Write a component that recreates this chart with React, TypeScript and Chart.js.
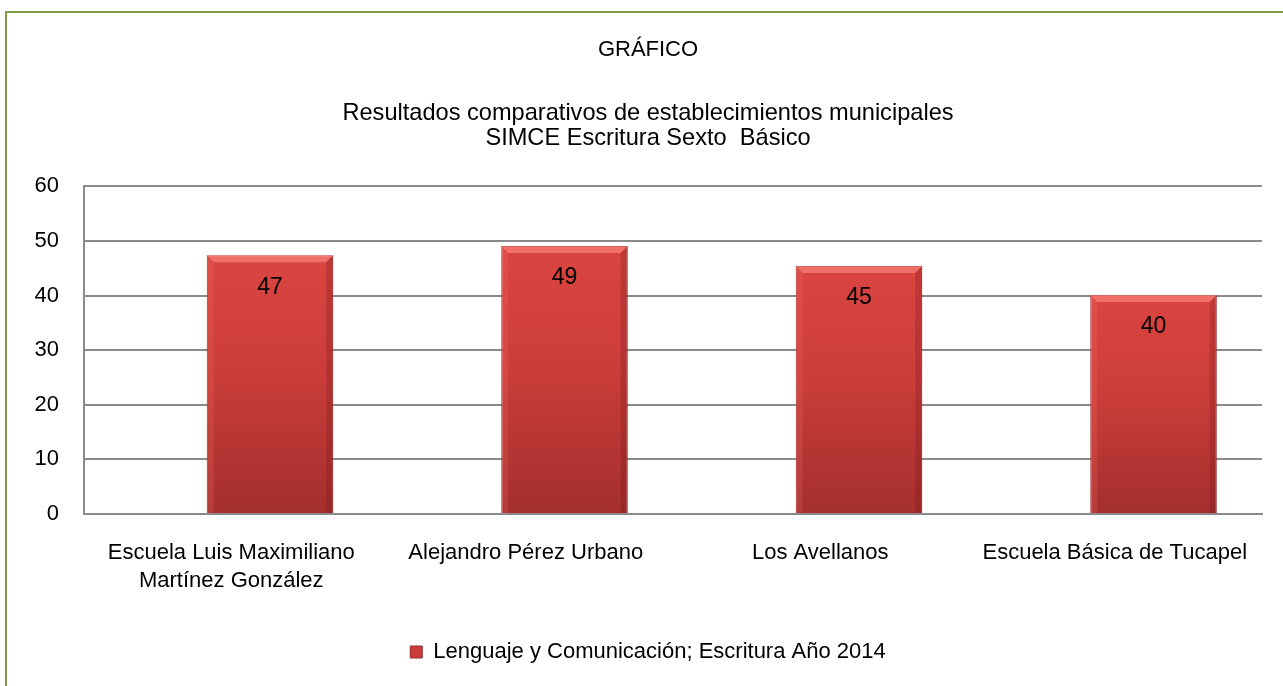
import React, { useEffect, useRef } from "react";
import { Chart, registerables } from "chart.js";

Chart.register(...registerables);

const categories: (string | string[])[] = [
  ["Escuela Luis Maximiliano", "Martínez González"],
  "Alejandro Pérez Urbano",
  "Los Avellanos",
  "Escuela Básica de Tucapel",
];
const seriesName = "Lenguaje y Comunicación; Escritura Año 2014";
const seriesValues = [47.4, 49.1, 45.4, 40.1];
const emptySeries = [null, null, null, null];
const chartTitle = "GRÁFICO";
const chartSubtitle = [
  "Resultados comparativos de establecimientos municipales",
  "SIMCE Escritura Sexto  Básico",
];
const yMin = 0;
const yMax = 60;
const yStep = 10;

const FONT = '"Liberation Sans", Arial, sans-serif';

const barGradient = (ctx: any) => {
  const chart = ctx.chart;
  if (!chart.chartArea || ctx.type !== "data") return "#c93c39";
  const y = chart.scales.y;
  const v = ctx.parsed ? ctx.parsed.y : null;
  if (v == null) return "#c93c39";
  const top = y.getPixelForValue(v);
  const bottom = y.getPixelForValue(0);
  const g = chart.ctx.createLinearGradient(0, top, 0, bottom);
  g.addColorStop(0, "#da4541");
  g.addColorStop(0.45, "#cb3d3a");
  g.addColorStop(1, "#a42f2e");
  return g;
};

const bevelPlugin = {
  id: "bevel",
  afterDatasetsDraw(chart: any) {
    const meta = chart.getDatasetMeta(1);
    const ctx = chart.ctx;
    ctx.save();
    meta.data.forEach((bar: any) => {
      const { x, y, base, width } = bar.getProps(["x", "y", "base", "width"], true);
      const l = x - width / 2;
      const r = x + width / 2;
      const b = 7;
      ctx.fillStyle = "rgba(255,140,130,0.6)";
      ctx.beginPath();
      ctx.moveTo(l, y);
      ctx.lineTo(r, y);
      ctx.lineTo(r - b, y + b);
      ctx.lineTo(l + b, y + b);
      ctx.closePath();
      ctx.fill();
      ctx.fillStyle = "rgba(110,20,20,0.25)";
      ctx.beginPath();
      ctx.moveTo(r, y);
      ctx.lineTo(r, base);
      ctx.lineTo(r - b, base);
      ctx.lineTo(r - b, y + b);
      ctx.closePath();
      ctx.fill();
      ctx.fillStyle = "rgba(255,120,110,0.18)";
      ctx.beginPath();
      ctx.moveTo(l, y);
      ctx.lineTo(l + b, y + b);
      ctx.lineTo(l + b, base);
      ctx.lineTo(l, base);
      ctx.closePath();
      ctx.fill();
    });
    ctx.restore();
  },
};

const valueLabelPlugin = {
  id: "valueLabels",
  afterDatasetsDraw(chart: any) {
    const meta = chart.getDatasetMeta(1);
    const ctx = chart.ctx;
    ctx.save();
    ctx.font = `23px ${FONT}`;
    ctx.fillStyle = "#000";
    ctx.textAlign = "center";
    ctx.textBaseline = "middle";
    meta.data.forEach((bar: any, i: number) => {
      const v = seriesValues[i];
      ctx.fillText(String(Math.round(v)), bar.x, bar.y + 32);
    });
    ctx.restore();
  },
};

export default function App() {
  const ref = useRef<HTMLCanvasElement | null>(null);

  useEffect(() => {
    if (!ref.current) return;
    Chart.defaults.font.family = FONT;
    Chart.defaults.color = "#000";
    const chart = new Chart(ref.current, {
      type: "bar",
      data: {
        labels: categories,
        datasets: [
          {
            label: "",
            data: emptySeries as any,
            backgroundColor: "transparent",
          },
          {
            label: seriesName,
            data: seriesValues,
            backgroundColor: barGradient as any,
            borderColor: "#9a2a2a",
            borderWidth: 1,
          },
        ],
      },
      options: {
        animation: false,
        responsive: false,
        devicePixelRatio: 1,
        datasets: {
          bar: {
            categoryPercentage: 0.5263,
            barPercentage: 1.632,
          },
        },
        layout: { padding: { left: 34, right: 21, top: 0, bottom: 13 } },
        plugins: {
          title: {
            display: true,
            text: chartTitle,
            font: { size: 22, weight: "normal", family: FONT },
            color: "#000",
            padding: { top: 37, bottom: 0 },
          },
          subtitle: {
            display: true,
            text: chartSubtitle,
            font: { size: 23.6, weight: "normal", family: FONT, lineHeight: "25px" },
            color: "#000",
            padding: { top: 38, bottom: 35 },
          },
          legend: {
            display: true,
            position: "bottom",
            labels: {
              font: { size: 22, family: FONT },
              color: "#000",
              boxWidth: 12,
              boxHeight: 12,
              padding: 10,
              generateLabels: (c: any) =>
                Chart.defaults.plugins.legend.labels
                  .generateLabels(c)
                  .filter((l: any) => l.datasetIndex === 1)
                  .map((l: any) => ({
                    ...l,
                    fillStyle: "#cc3d3a",
                    strokeStyle: "#9a2a2a",
                    lineWidth: 1,
                  })),
            },
          },
          tooltip: { enabled: false },
        },
        scales: {
          x: {
            grid: { display: false, drawTicks: false },
            border: { display: true, color: "#8a8a8a", width: 2 },
            ticks: {
              font: { size: 22, family: FONT, lineHeight: 1.28 },
              color: "#000",
              padding: 25,
              maxRotation: 0,
              autoSkip: false,
            },
            afterFit: (s: any) => {
              s.height = 117;
            },
          },
          y: {
            min: yMin,
            max: yMax,
            ticks: {
              stepSize: yStep,
              font: { size: 22, family: FONT },
              color: "#000",
              padding: 25,
            },
            grid: { color: "#8a8a8a", lineWidth: 2, drawTicks: false },
            border: { display: true, color: "#8a8a8a", width: 2 },
            afterFit: (s: any) => {
              s.width = 50;
            },
          },
        },
      },
      plugins: [bevelPlugin, valueLabelPlugin],
    });
    return () => chart.destroy();
  }, []);

  return (
    <>
      <div
        style={{
          position: "fixed",
          left: 5,
          top: 11,
          width: 1400,
          height: 800,
          border: "2px solid #7f9c44",
          boxSizing: "border-box",
          background: "#fff",
        }}
      />
      <div style={{ position: "fixed", left: 0, top: 0, width: 1283, height: 686 }}>
        <canvas ref={ref} width={1283} height={686} />
      </div>
    </>
  );
}
